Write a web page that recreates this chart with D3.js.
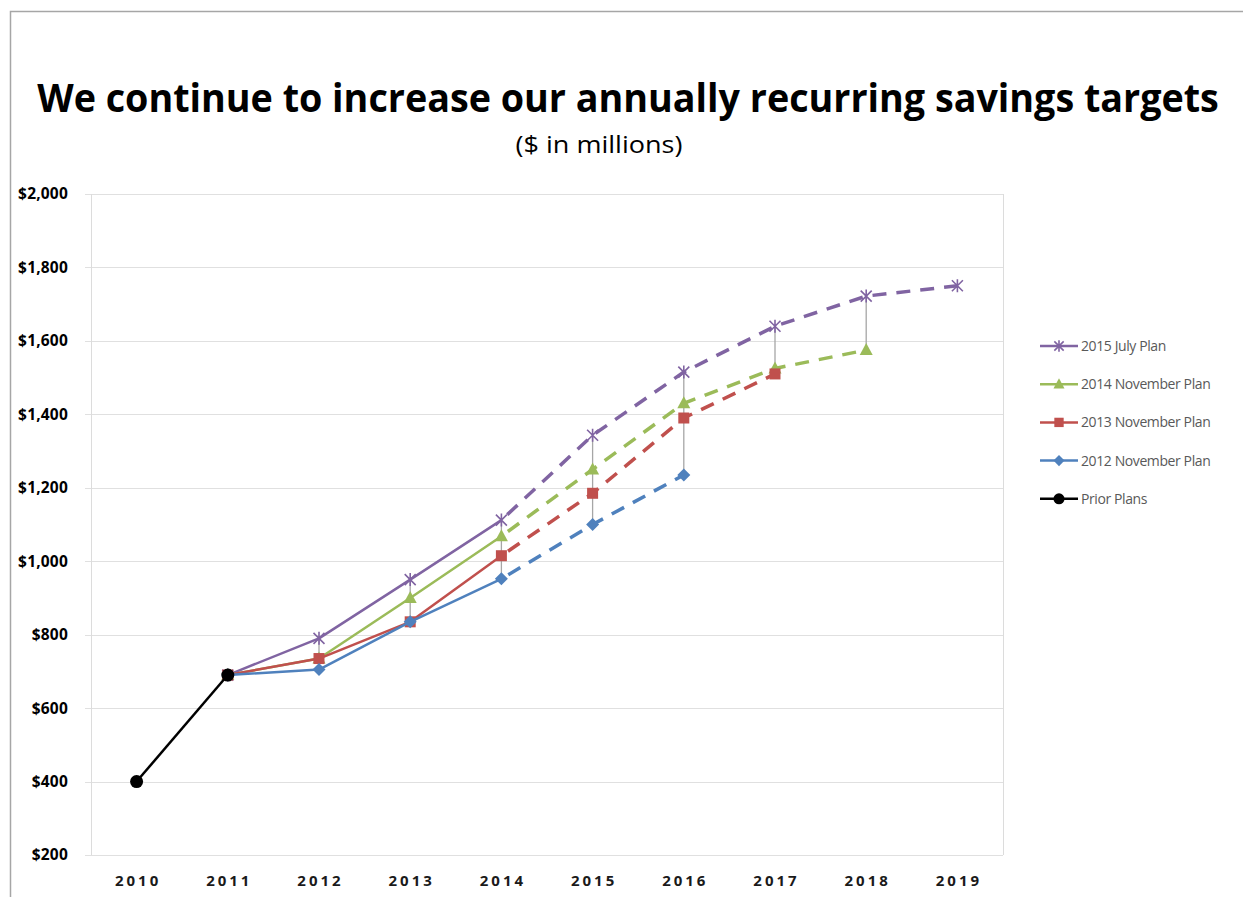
<!DOCTYPE html>
<html><head><meta charset="utf-8">
<script src="https://cdn.jsdelivr.net/npm/d3@7"></script>
<style>body{margin:0;background:#fff;} svg{display:block;}</style>
</head><body>
<svg id="c" width="1243" height="897"></svg>
<script>
const years = [2010,2011,2012,2013,2014,2015,2016,2017,2018,2019];
const yTicks = [200,400,600,800,1000,1200,1400,1600,1800,2000];
const priorYears = [2010,2011];
const priorValues = [400,690];
const plan2012Years = [2011,2012,2013,2014,2015,2016];
const plan2012Values = [690,705,835,952,1100,1235];
const plan2013Years = [2011,2012,2013,2014,2015,2016,2017];
const plan2013Values = [690,735,835,1015,1185,1390,1510];
const plan2014Years = [2011,2012,2013,2014,2015,2016,2017,2018];
const plan2014Values = [690,735,900,1068,1250,1430,1525,1575];
const plan2015Years = [2011,2012,2013,2014,2015,2016,2017,2018,2019];
const plan2015Values = [690,790,950,1112,1343,1515,1640,1722,1750];
const lastActualYear = 2014;

const series = [
  {name:"2015 July Plan", years:plan2015Years, values:plan2015Values, color:"#8064A2", marker:"star"},
  {name:"2014 November Plan", years:plan2014Years, values:plan2014Values, color:"#9BBB59", marker:"triangle"},
  {name:"2013 November Plan", years:plan2013Years, values:plan2013Values, color:"#C0504D", marker:"square"},
  {name:"2012 November Plan", years:plan2012Years, values:plan2012Values, color:"#4F81BD", marker:"diamond"},
  {name:"Prior Plans", years:priorYears, values:priorValues, color:"#000000", marker:"circle"}
];

const svg = d3.select("#c");
// outer frame
svg.append("path").attr("d","M10.5,897 V11.5 H1243").attr("fill","none").attr("stroke","#a6a6a6").attr("stroke-width",1.5);

const L=91, R=1003, T=194, B=855;
const x = d3.scaleBand().domain(years).range([L,R]);
const xc = d => x(d) + x.bandwidth()/2;
const y = d3.scaleLinear().domain([200,2000]).range([B,T]);

// title (fit to width by horizontal scaling)
function fittedText(cx, cy, size, weight, width, str){
  const t = svg.append("text").attr("x",0).attr("y",0).attr("text-anchor","middle")
    .attr("font-family","'Open Sans', sans-serif").attr("font-weight",weight).attr("font-size",size)
    .attr("fill","#000").text(str);
  const w = t.node().getComputedTextLength();
  t.attr("transform",`translate(${cx},${cy}) scale(${width/w},1)`);
}
fittedText(628,112,39,"bold",1182,"We continue to increase our annually recurring savings targets");
fittedText(599,153,23,"normal",167,"($ in millions)");

// gridlines
svg.append("g").selectAll("line").data(yTicks).join("line")
  .attr("x1",L-6).attr("x2",R).attr("y1",d=>Math.round(y(d))+0.5).attr("y2",d=>Math.round(y(d))+0.5)
  .attr("stroke","#e0e0e0").attr("stroke-width",1.2);
// plot border
svg.append("line").attr("x1",L+0.5).attr("x2",L+0.5).attr("y1",T).attr("y2",B).attr("stroke","#dcdcdc");
svg.append("line").attr("x1",R+0.5).attr("x2",R+0.5).attr("y1",T).attr("y2",B).attr("stroke","#dcdcdc");

// y axis
const yAxis = svg.append("g").attr("transform",`translate(${L-20},0)`)
  .call(d3.axisLeft(y).tickValues(yTicks).tickSize(0).tickFormat(d=>"$"+d3.format(",")(d)));
yAxis.select(".domain").remove();
yAxis.selectAll("text").attr("font-family","'Open Sans', sans-serif").attr("font-weight","bold")
  .attr("font-size",15.5).attr("fill","#000").attr("dx",0).attr("letter-spacing","0.2px");

// x axis
const xAxis = svg.append("g").attr("transform",`translate(0,${B+17})`)
  .call(d3.axisBottom(x).tickSize(0));
xAxis.select(".domain").remove();
xAxis.selectAll("text").attr("font-family","'Open Sans', sans-serif").attr("font-weight","bold")
  .attr("font-size",15).attr("letter-spacing","3px").attr("fill","#1a1a1a").attr("dx","1.5px");

// high-low lines
const planSeries = series.slice(0,4);
const hl = years.map(yr => {
  const vals = [];
  planSeries.forEach(s => { const i = s.years.indexOf(yr); if (i>=0) vals.push(s.values[i]); });
  return {yr, min:d3.min(vals), max:d3.max(vals)};
}).filter(d => d.min!==undefined && d.max>d.min);
svg.append("g").selectAll("line").data(hl).join("line")
  .attr("x1",d=>xc(d.yr)).attr("x2",d=>xc(d.yr)).attr("y1",d=>y(d.max)).attr("y2",d=>y(d.min))
  .attr("stroke","#a6a6a6").attr("stroke-width",1.3);

const line = d3.line().x(d=>xc(d.yr)).y(d=>y(d.v));

function drawMarker(g, type, cx, cy, color, scale){
  const k = scale || 1;
  if(type==="circle"){
    g.append("circle").attr("cx",cx).attr("cy",cy).attr("r",6.5*k).attr("fill",color);
  } else if(type==="square"){
    g.append("rect").attr("x",cx-5.5*k).attr("y",cy-5.5*k).attr("width",11*k).attr("height",11*k).attr("fill",color);
  } else if(type==="diamond"){
    const r=6.5*k;
    g.append("path").attr("d",`M${cx},${cy-r}L${cx+r},${cy}L${cx},${cy+r}L${cx-r},${cy}Z`).attr("fill",color);
  } else if(type==="triangle"){
    g.append("path").attr("d",`M${cx},${cy-7*k}L${cx+6.5*k},${cy+5*k}L${cx-6.5*k},${cy+5*k}Z`).attr("fill",color);
  } else if(type==="star"){
    const r=5.5*k;
    g.append("path").attr("d",`M${cx-r},${cy-r}L${cx+r},${cy+r}M${cx-r},${cy+r}L${cx+r},${cy-r}M${cx},${cy-r-1}L${cx},${cy+r+1}`)
      .attr("stroke",color).attr("stroke-width",1.6).attr("fill","none");
  }
}

series.forEach(s => {
  const pts = s.years.map((yr,i)=>({yr, v:s.values[i]}));
  const solid = pts.filter(p=>p.yr<=lastActualYear);
  const dashed = pts.filter(p=>p.yr>=lastActualYear);
  const g = svg.append("g");
  g.append("path").datum(solid).attr("d",line).attr("fill","none").attr("stroke",s.color)
    .attr("stroke-width",2.5).attr("stroke-linejoin","round");
  if(dashed.length>1){
    g.append("path").datum(dashed).attr("d",line).attr("fill","none").attr("stroke",s.color)
      .attr("stroke-width",3.5).attr("stroke-dasharray","14,10").attr("stroke-dashoffset",-8);
  }
  pts.forEach(p => drawMarker(g, s.marker, xc(p.yr), y(p.v), s.color));
});

// legend
const lg = svg.append("g");
series.forEach((s,i) => {
  const ly = 346 + i*38.2;
  lg.append("line").attr("x1",1040).attr("x2",1078).attr("y1",ly).attr("y2",ly).attr("stroke",s.color).attr("stroke-width",2.5);
  drawMarker(lg, s.marker, 1059, ly, s.color, 0.85);
  lg.append("text").attr("x",1081).attr("y",ly+5).attr("font-family","'Open Sans', sans-serif")
    .attr("font-size",14).attr("fill","#595959").attr("letter-spacing","-0.4px").text(s.name);
});
</script>
</body></html>
